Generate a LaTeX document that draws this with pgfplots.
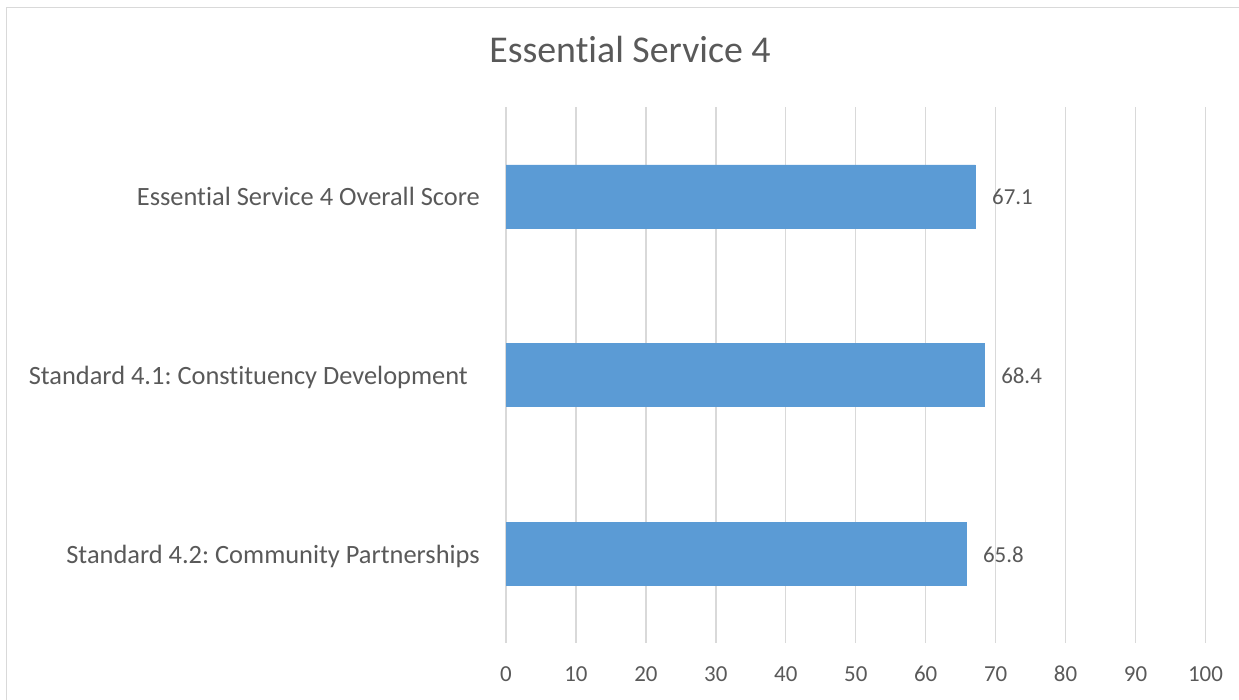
\documentclass[border=0pt]{standalone}
\usepackage{fontspec}
\setmainfont{Carlito}[Ligatures={TeX,NoCommon,NoRare,NoContextual}, Contextuals=NoAlternate, RawFeature={-liga;-clig;-calt;-dlig}]
\usepackage{pgfplots}
\pgfplotsset{compat=1.18}
\definecolor{barblue}{HTML}{5B9BD5}
\definecolor{txt}{HTML}{595959}
\definecolor{gridc}{HTML}{D9D9D9}
\frenchspacing
\begin{document}
\frenchspacing
\begin{tikzpicture}
\begin{axis}[
  at={(506bp,57bp)}, anchor=south west,
  scale only axis, width=699.5bp, height=536bp,
  xbar, bar width=0.3526,
  xmin=0, xmax=100, ymin=-0.5, ymax=2.5,
  xtick={0,10,...,100},
  ytick={0,1,2},
  yticklabels={Standard 4.2: Community Partnerships, Standard 4.1: Constituency Development\kern12bp, Essential Service 4 Overall Score},
  xmajorgrids, major grid style={gridc, line width=1.3bp},
  axis line style={draw=none},
  major tick length=0pt,
  tick style={draw=none},
  xticklabel style={font=\fontsize{23}{27}\selectfont, text=txt, anchor=base, inner sep=0pt, yshift=-39bp},
  yticklabel style={font=\fontsize{26.5}{30}\selectfont\frenchspacing, text=txt, anchor=base east, inner sep=0pt, xshift=-26bp, yshift=-9.5bp},
  /pgf/number format/assume math mode=true,
  point meta=x,
  nodes near coords,
  nodes near coords style={font=\fontsize{23}{27}\selectfont, text=txt, anchor=base west, inner sep=0pt, xshift=16.6bp, yshift=-8.5bp, /pgf/number format/.cd, fixed, fixed zerofill, precision=1, assume math mode=true},
]
\addplot[fill=barblue, draw=barblue] coordinates {(65.8,0) (68.4,1) (67.1,2)};
\end{axis}
\node[anchor=base, font=\fontsize{38}{44}\selectfont, text=txt] at (630bp,637bp) {Essential Service 4};
\draw[gridc, line width=1.5bp] (6.7bp,-5bp) -- (6.7bp,692.7bp) -- (1245bp,692.7bp);
\pgfresetboundingbox
\useasboundingbox (0,0) rectangle (1239bp,700bp);
\end{tikzpicture}
\end{document}
